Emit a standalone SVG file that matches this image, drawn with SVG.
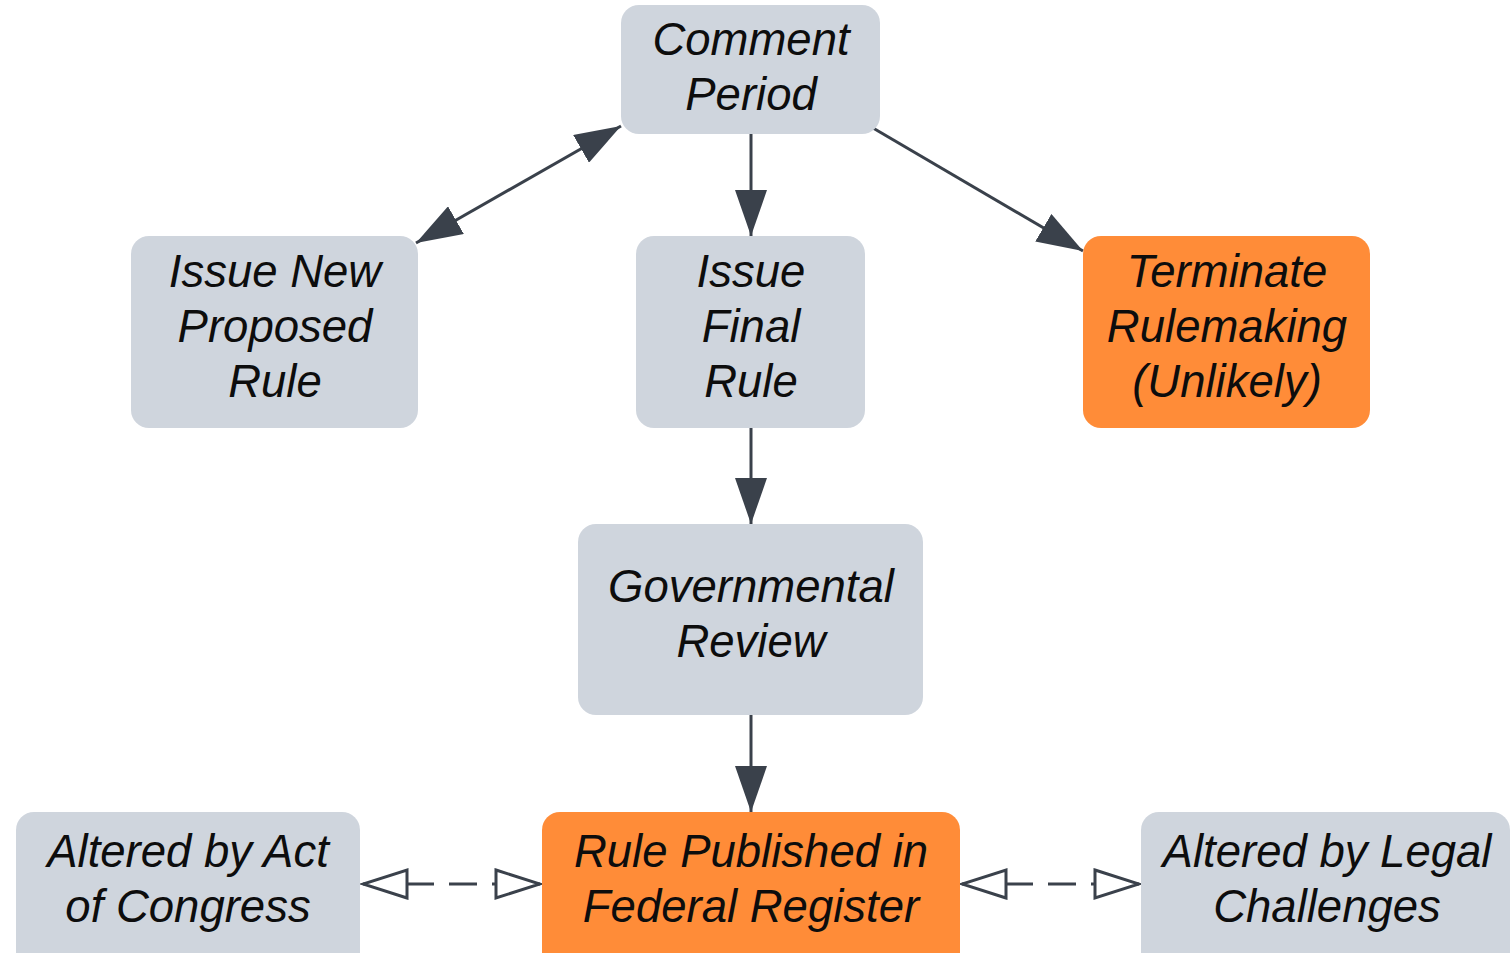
<svg xmlns="http://www.w3.org/2000/svg" width="1511" height="953" viewBox="0 0 1511 953">
<style>
.g{fill:#CFD5DD}
.o{fill:#FF8C38}
text{font-family:"Liberation Sans",Arial,sans-serif;font-style:italic;font-size:45.5px;fill:#0d0d0d;text-anchor:middle}
.c{stroke:#3A414B;stroke-width:3;fill:none}
.d{stroke-dasharray:28 15}
</style>
<defs>
<marker id="a" markerUnits="userSpaceOnUse" viewBox="0 0 46 32" refX="46" refY="16" markerWidth="46" markerHeight="32" orient="auto-start-reverse">
<path d="M0,0 L46,16 L0,32 Z" fill="#3A414B"/>
</marker>
<marker id="h" markerUnits="userSpaceOnUse" viewBox="0 0 50 34" refX="47" refY="17" markerWidth="50" markerHeight="34" orient="auto-start-reverse">
<path d="M3,3 L47,17 L3,31 Z" fill="#fff" stroke="#3A414B" stroke-width="3"/>
</marker>
</defs>
<rect width="1511" height="953" fill="#fff"/>
<g id="connectors">
<line class="c" x1="621" y1="126" x2="416" y2="243" marker-start="url(#a)" marker-end="url(#a)"/>
<line class="c" x1="751" y1="134" x2="751" y2="236" marker-end="url(#a)"/>
<line class="c" x1="873" y1="128" x2="1083" y2="251" marker-end="url(#a)"/>
<line class="c" x1="751" y1="428" x2="751" y2="524" marker-end="url(#a)"/>
<line class="c" x1="751" y1="715" x2="751" y2="812" marker-end="url(#a)"/>
<line class="c d" x1="363" y1="884" x2="540" y2="884" marker-start="url(#h)" marker-end="url(#h)"/>
<line class="c d" x1="962" y1="884" x2="1139" y2="884" marker-start="url(#h)" marker-end="url(#h)"/>
</g>
<g id="comment-period">
<rect class="g" x="621" y="5" width="259" height="129" rx="18"/>
<text x="751" y="55">Comment</text>
<text x="751" y="110">Period</text>
</g>
<g id="issue-new-proposed-rule">
<rect class="g" x="131" y="236" width="287" height="192" rx="18"/>
<text x="275" y="287">Issue New</text>
<text x="275" y="342">Proposed</text>
<text x="275" y="397">Rule</text>
</g>
<g id="issue-final-rule">
<rect class="g" x="636" y="236" width="229" height="192" rx="18"/>
<text x="751" y="287">Issue</text>
<text x="751" y="342">Final</text>
<text x="751" y="397">Rule</text>
</g>
<g id="terminate-rulemaking">
<rect class="o" x="1083" y="236" width="287" height="192" rx="18"/>
<text x="1227" y="287">Terminate</text>
<text x="1227" y="342">Rulemaking</text>
<text x="1227" y="397">(Unlikely)</text>
</g>
<g id="governmental-review">
<rect class="g" x="578" y="524" width="345" height="191" rx="18"/>
<text x="751" y="602">Governmental</text>
<text x="751" y="657">Review</text>
</g>
<g id="altered-by-act-of-congress">
<rect class="g" x="16" y="812" width="344" height="160" rx="18"/>
<text x="188" y="867">Altered by Act</text>
<text x="188" y="922">of Congress</text>
</g>
<g id="rule-published">
<rect class="o" x="542" y="812" width="418" height="160" rx="18"/>
<text x="751" y="867">Rule Published in</text>
<text x="751" y="922">Federal Register</text>
</g>
<g id="altered-by-legal-challenges">
<rect class="g" x="1141" y="812" width="369" height="160" rx="18"/>
<text x="1327" y="867">Altered by Legal</text>
<text x="1327" y="922">Challenges</text>
</g>
</svg>
